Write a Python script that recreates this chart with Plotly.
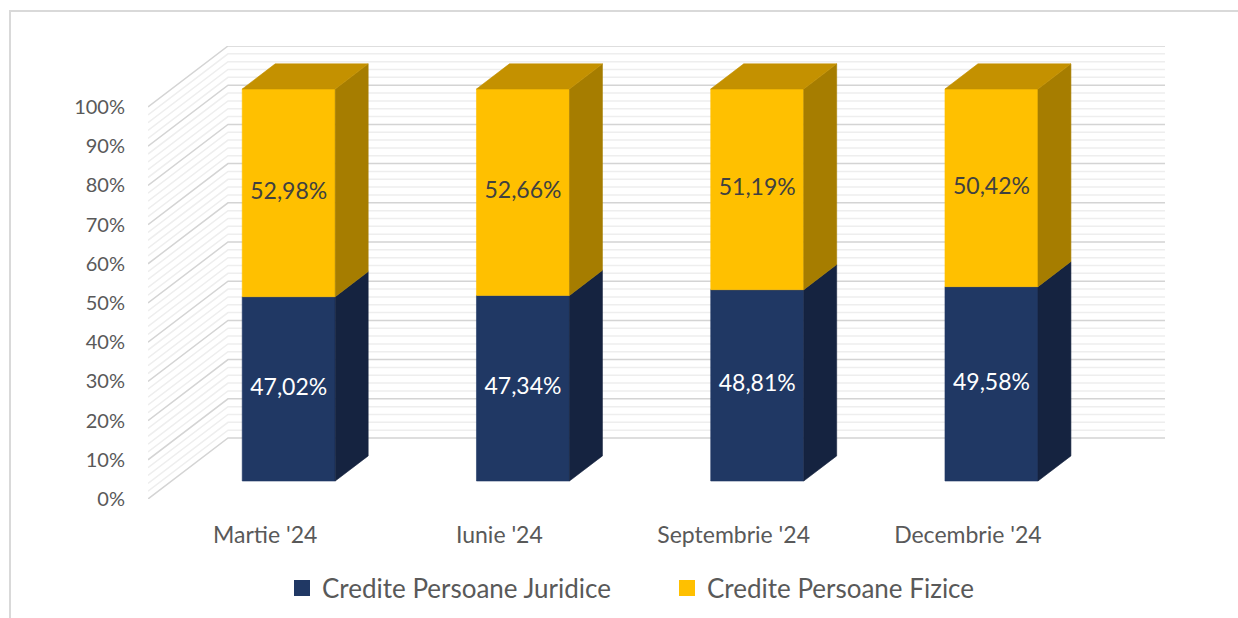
import plotly.graph_objects as go

# ---------------- data ----------------
categories = ["Martie '24", "Iunie '24", "Septembrie '24", "Decembrie '24"]
juridice = [47.02, 47.34, 48.81, 49.58]
fizice = [52.98, 52.66, 51.19, 50.42]
label_juridice = ["47,02%", "47,34%", "48,81%", "49,58%"]
label_fizice = ["52,98%", "52,66%", "51,19%", "50,42%"]
tick_values = [0, 10, 20, 30, 40, 50, 60, 70, 80, 90, 100]
tick_labels = [f"{v}%" for v in tick_values]
series_names = ["Credite Persoane Juridice", "Credite Persoane Fizice"]

# ---------------- style / geometry ----------------
W_PX, H_PX = 1238, 618
ML, MR, MT, MB = 148, 73, 46, 119
DX = 0.3415          # depth offset in category units (full depth)
DY = 15.56           # depth offset in percent units (full depth)
Z_FRONT, Z_BACK = 0.295, 0.707
BAR_W = 0.397
N = len(categories)

NAVY = "#203864"
NAVY_SIDE = "#152340"
YEL = "#FFC000"
YEL_SIDE = "#A67D00"
YEL_TOP = "#C49100"
TXT = "#595959"
FONT = "Lato"

fig = go.Figure()

# ---------------- gridlines (back wall + left wall) ----------------
maj_x, maj_y, min_x, min_y = [], [], [], []
for v in range(0, 101, 2):
    xs = [0, DX, N + DX, None]
    ys = [v, v + DY, v + DY, None]
    if v % 10 == 0:
        maj_x += xs; maj_y += ys
    else:
        min_x += xs; min_y += ys
fig.add_trace(go.Scatter(x=min_x, y=min_y, mode="lines",
                         line=dict(color="#eeeeee", width=1.5),
                         hoverinfo="skip", showlegend=False))
fig.add_trace(go.Scatter(x=maj_x, y=maj_y, mode="lines",
                         line=dict(color="#d4d4d4", width=1.5),
                         hoverinfo="skip", showlegend=False))


def poly(xs, ys, color):
    fig.add_trace(go.Scatter(x=xs + [xs[0]], y=ys + [ys[0]], mode="lines",
                             fill="toself", fillcolor=color,
                             line=dict(width=0.6, color=color),
                             hoverinfo="skip", showlegend=False))


fx, fy = Z_FRONT * DX, Z_FRONT * DY
bx, by = Z_BACK * DX, Z_BACK * DY

for i in range(N):
    cx = i + 0.5
    xl, xr = cx - BAR_W / 2, cx + BAR_W / 2
    segments = [(0, juridice[i], NAVY, NAVY_SIDE, None),
                (juridice[i], juridice[i] + fizice[i], YEL, YEL_SIDE, YEL_TOP)]
    for y0, y1, front, side, top in segments:
        poly([xl + fx, xr + fx, xr + fx, xl + fx],
             [y0 + fy, y0 + fy, y1 + fy, y1 + fy], front)
        poly([xr + fx, xr + bx, xr + bx, xr + fx],
             [y0 + fy, y0 + by, y1 + by, y1 + fy], side)
        if top:
            poly([xl + fx, xr + fx, xr + bx, xl + bx],
                 [y1 + fy, y1 + fy, y1 + by, y1 + by], top)

# ---------------- data labels ----------------
cxs = [i + 0.5 + fx for i in range(N)]
fig.add_trace(go.Scatter(
    x=cxs, y=[v / 2 + fy for v in juridice], mode="text",
    text=label_juridice, textfont=dict(family=FONT, size=23, color="white"),
    hoverinfo="skip", showlegend=False, cliponaxis=False))
fig.add_trace(go.Scatter(
    x=cxs, y=[j + f / 2 + fy for j, f in zip(juridice, fizice)], mode="text",
    text=label_fizice, textfont=dict(family=FONT, size=23, color="#404040"),
    hoverinfo="skip", showlegend=False, cliponaxis=False))

# ---------------- legend entries ----------------
for name, col in zip(series_names, [NAVY, YEL]):
    fig.add_trace(go.Scatter(x=[None], y=[None], mode="markers", name=name,
                             marker=dict(symbol="square", size=18, color=col)))

# ---------------- border ----------------
pw = W_PX - ML - MR
ph = H_PX - MT - MB
fig.add_shape(type="rect", xref="paper", yref="paper",
              x0=(10 - ML) / pw, x1=(W_PX + 20 - ML) / pw,
              y0=(H_PX - MB - (H_PX + 20)) / ph, y1=(H_PX - MB - 11) / ph,
              line=dict(color="#d9d9d9", width=2), fillcolor="rgba(0,0,0,0)")

fig.update_layout(
    width=W_PX, height=H_PX, autosize=False,
    margin=dict(l=ML, r=MR, t=MT, b=MB, pad=0, autoexpand=False),
    paper_bgcolor="white", plot_bgcolor="white",
    font=dict(family=FONT, color=TXT),
    xaxis=dict(range=[0, N + DX], tickvals=[i + 0.5 for i in range(N)],
               ticktext=categories, showgrid=False, zeroline=False,
               showline=False, ticks="", ticklabelstandoff=20, automargin=False,
               tickfont=dict(family=FONT, size=23, color=TXT), fixedrange=True),
    yaxis=dict(range=[0, 100 + DY], tickvals=tick_values, ticktext=tick_labels,
               showgrid=False, zeroline=False, showline=False, ticks="",
               ticklabelstandoff=22, automargin=False,
               tickfont=dict(family=FONT, size=20, color=TXT), fixedrange=True),
    showlegend=True,
    legend=dict(orientation="h", x=(667 - ML) / pw, xanchor="center",
                y=(H_PX - MB - 588) / ph, yanchor="middle",
                font=dict(family=FONT, size=26, color=TXT),
                entrywidth=340, entrywidthmode="pixels",
                itemsizing="trace", bgcolor="rgba(0,0,0,0)"),
)

fig.write_html("out.html", config={"displayModeBar": False},
               post_script="document.body.style.margin='0';")
